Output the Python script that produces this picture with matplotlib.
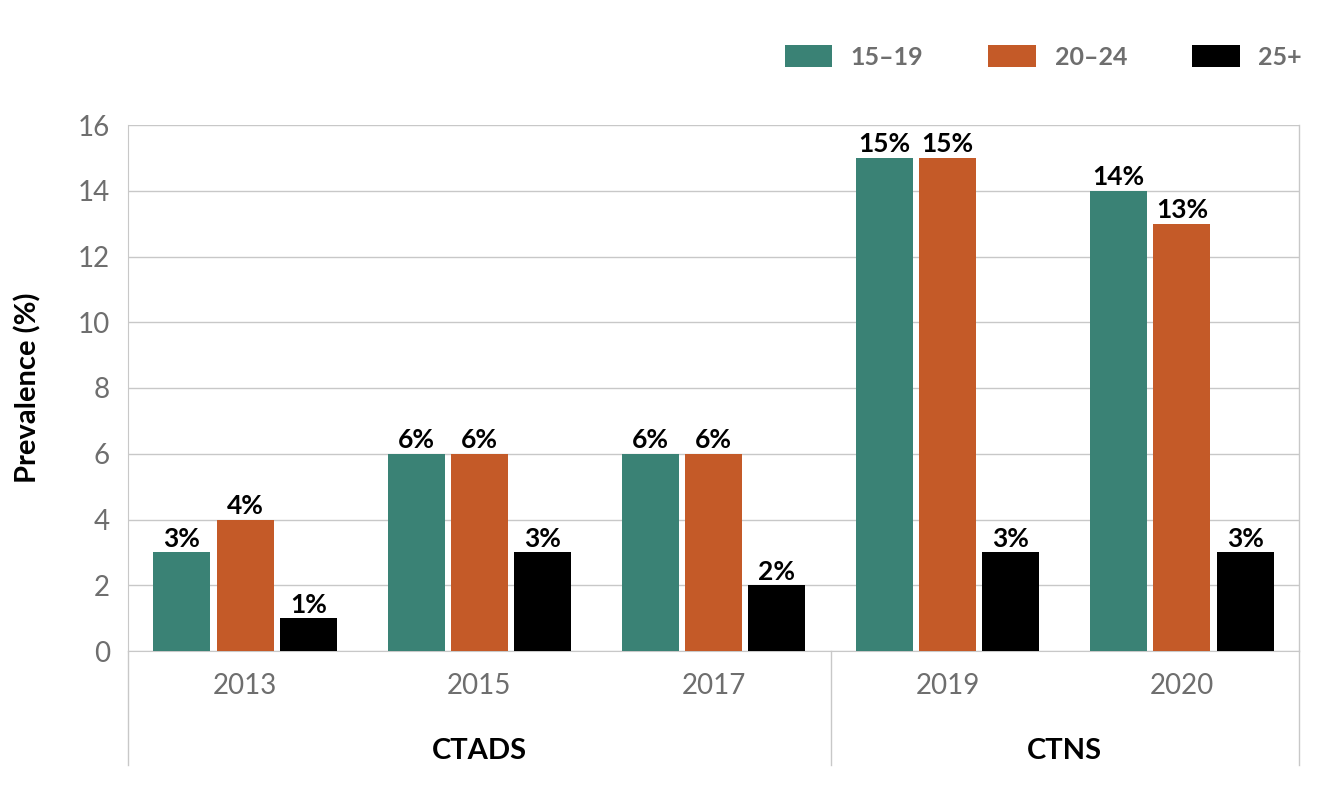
import numpy as np
import matplotlib.pyplot as plt

plt.rcParams['font.family'] = ['Lato', 'DejaVu Sans']

years = ['2013', '2015', '2017', '2019', '2020']
surveys = ['CTADS', 'CTNS']
survey_sizes = [3, 2]   # number of years in each survey group
age_groups = ['15–19', '20–24', '25+']
teen = [3, 6, 6, 15, 14]
young = [4, 6, 6, 15, 13]
adult = [1, 3, 2, 3, 3]
colors = ['#3a8275', '#c45a28', '#000000']

grid_col = '#c8c8c8'
tick_col = '#6e6e6e'

fig = plt.figure(figsize=(13.19, 8.07), dpi=100)
ax = fig.add_axes([128/1319, 1 - 651/807, 1171/1319, 526/807])

x = np.arange(len(years))
w = 0.243
step = 0.27
for i, (vals, c, lab) in enumerate(zip([teen, young, adult], colors, age_groups)):
    bars = ax.bar(x + (i - 1) * step, vals, w, color=c, label=lab, zorder=3)
    ax.bar_label(bars, labels=[f'{v}%' for v in vals], padding=1,
                 fontsize=19, fontweight='bold', color='black')

ax.set_xlim(-0.5, len(years) - 0.5)
ax.set_ylim(0, 16)
ax.set_yticks(range(0, 17, 2))
ax.yaxis.grid(True, color=grid_col, lw=1, zorder=0)
ax.set_xticks(x)
ax.set_xticklabels(years)
ax.tick_params(axis='x', length=0, pad=16, labelsize=20, labelcolor=tick_col)
ax.tick_params(axis='y', length=0, pad=13, labelsize=20, labelcolor=tick_col)
for s in ['top', 'right']:
    ax.spines[s].set_visible(False)
ax.spines['left'].set_color(grid_col)
ax.spines['bottom'].set_color(grid_col)

ax.set_ylabel('Prevalence (%)', fontsize=21, fontweight='bold', labelpad=26)

# group separators and survey names below the axis
tr = ax.get_xaxis_transform()
low = -0.217
edges = np.concatenate([[0], np.cumsum(survey_sizes)]) - 0.5
for e in edges:
    ax.plot([e, e], [0, low], color=grid_col, lw=1, transform=tr, clip_on=False)
ax.plot([edges[-1], edges[-1]], [0, 1], color=grid_col, lw=1, transform=tr, clip_on=False)
for name, a, b in zip(surveys, edges[:-1], edges[1:]):
    ax.text((a + b) / 2, -0.19, name, transform=tr, ha='center', va='center',
            fontsize=21, fontweight='bold')

fig.legend(loc='center right', bbox_to_anchor=(1302/1319, 1 - 57/807), ncol=3,
           frameon=False, handlelength=1.9, handleheight=0.95,
           handletextpad=0.75, columnspacing=2.6, borderpad=0, borderaxespad=0,
           labelcolor=tick_col, prop={'weight': 'bold', 'size': 18})

fig.savefig('out.png', dpi=100)
